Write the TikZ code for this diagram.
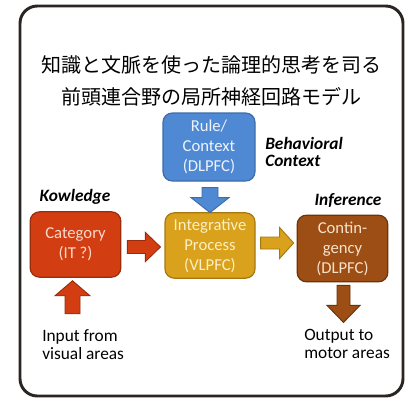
\documentclass[tikz,border=0pt]{standalone}
\usepackage{fontspec}
\setmainfont{Carlito}
\newfontfamily\jpfont{Noto Sans CJK JP}
\usetikzlibrary{calc}

\definecolor{blueF}{HTML}{5089D3}
\definecolor{blueD}{HTML}{3C6CAB}
\definecolor{blueT}{HTML}{EEF3FB}
\definecolor{redF}{HTML}{D23E12}
\definecolor{redD}{HTML}{9A2C0B}
\definecolor{redT}{HTML}{FAD9CB}
\definecolor{yelF}{HTML}{D9A11C}
\definecolor{yelD}{HTML}{A57812}
\definecolor{yelT}{HTML}{FCF0C4}
\definecolor{brnF}{HTML}{9C4E14}
\definecolor{brnD}{HTML}{6C3409}
\definecolor{brnT}{HTML}{F8E2CA}
\definecolor{frameC}{HTML}{2A2522}

% block arrow: colour, tail point, direction, length,
% half shaft width, half head width, head length
\newcommand\myblockarrow[7]{%
  \draw[draw=#1D, fill=#1F, line width=0.7pt, line join=miter,
        shift={#2}, rotate=#3]
    (0,-#5) -- (#4-#7,-#5) -- (#4-#7,-#6) -- (#4,0) -- (#4-#7,#6)
    -- (#4-#7,#5) -- (0,#5) -- cycle;}

\begin{document}
\begin{tikzpicture}[x=0.75pt,y=-0.75pt,
  areabox/.style={draw=#1D, fill=#1F, text=#1T, rounded corners=7pt,
    line width=0.9pt, align=center, inner sep=0pt,
    font=\fontsize{12.5}{15}\selectfont},
  headlabel/.style={font=\fontsize{13}{12.5}\selectfont\bfseries\itshape,
    align=left, inner sep=0pt},
  iolabel/.style={font=\fontsize{13}{13.5}\selectfont, align=left,
    inner sep=0pt, anchor=north west}]

% page and outer frame
\useasboundingbox (0,0) rectangle (411,400);
\fill[white] (0,0) rectangle (411,400);
\draw[frameC, line width=2.2pt, rounded corners=13pt] (20,6) rectangle (403,396);

% title
\node[font=\jpfont\fontsize{15}{24}\selectfont, align=center, inner sep=0pt]
  (title) at (211.5,81) {知識と文脈を使った論理的思考を司る\\前頭連合野の局所神経回路モデル};

% area boxes
\node[areabox=blue, minimum width=69pt, minimum height=51pt] (rule) at (209,147)
  {Rule/\\Context\\(DLPFC)};
\node[areabox=red, minimum width=68pt, minimum height=49pt] (cat) at (75.5,244.5)
  {Category\\(IT ?)};
\node[areabox=yel, minimum width=67.5pt, minimum height=49pt] (integ) at (210,245.5)
  {Integrative\\Process\\(VLPFC)};
\node[areabox=brn, minimum width=68pt, minimum height=50pt] (cont) at (342.5,248.5)
  {Contin-\\gency\\(DLPFC)};

% headings
\node[headlabel, anchor=west] (behav) at (265,152) {Behavioral\\Context};
\node[headlabel] (know) at (75,197) {Kowledge};
\node[headlabel] (infer) at (348,200) {Inference};

% input / output texts
\node[iolabel] (inp) at (42,329) {Input from\\visual areas};
\node[iolabel] (outp) at (304,329) {Output to\\motor areas};

% block arrows between the areas
\myblockarrow{blue}{($(rule.south)+(1,6)$)}{-90}{25}{8}{19}{15}
\myblockarrow{red}{($(cat.east)+(6,2.5)$)}{0}{33}{6.5}{14.5}{15}
\myblockarrow{yel}{($(integ.east)+(5,-2.5)$)}{0}{33}{6}{15.5}{14}
\myblockarrow{red}{($(cat.south)+(-3,36)$)}{90}{33}{7.5}{17.5}{15}
\myblockarrow{brn}{($(cont.south)+(1,3)$)}{-90}{37}{6.5}{16.5}{17}
\end{tikzpicture}
\end{document}
